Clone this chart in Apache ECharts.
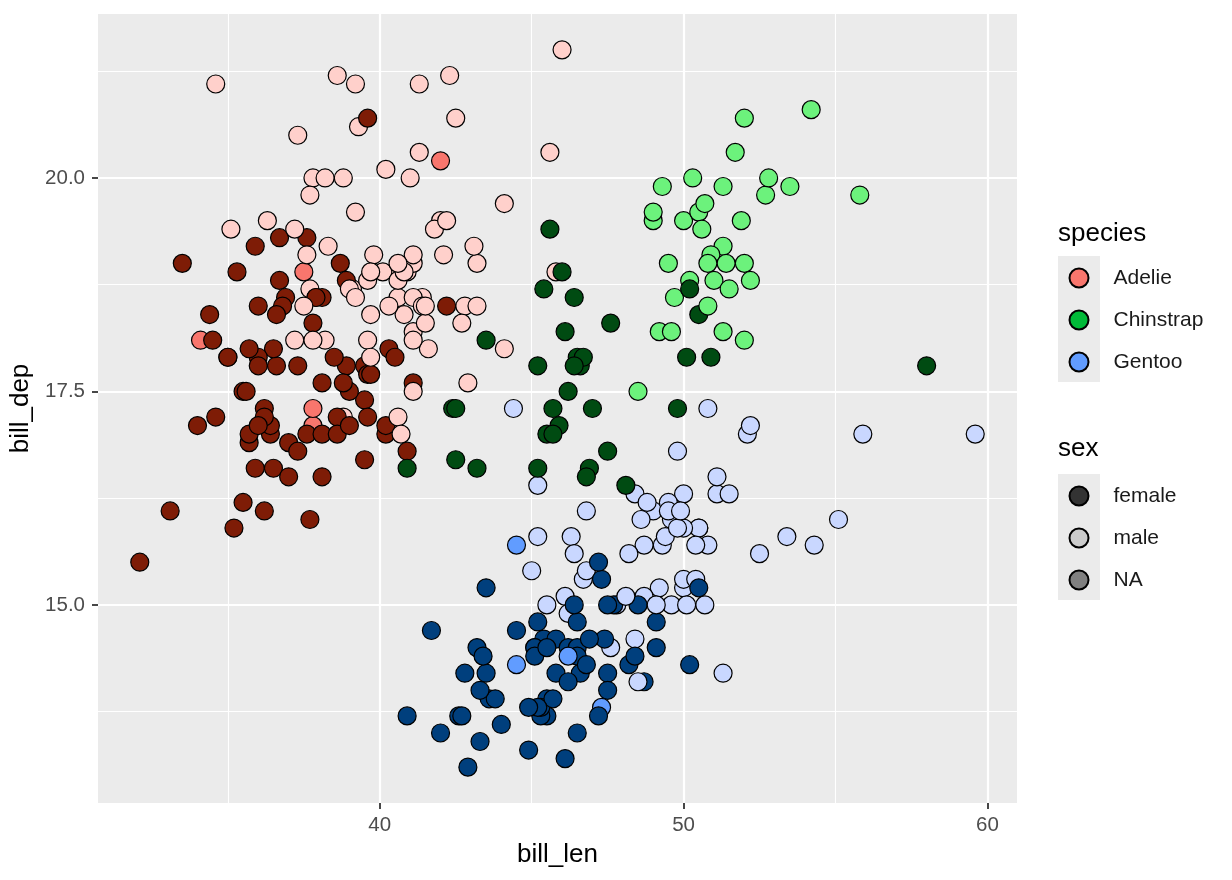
<!DOCTYPE html>
<html>
<head>
<meta charset="utf-8">
<script src="https://cdn.jsdelivr.net/npm/echarts@6/dist/echarts.min.js"></script>
<style>
  html, body { margin: 0; padding: 0; background: #fff; }
  #chart { width: 1232px; height: 880px; }
</style>
</head>
<body>
<div id="chart"></div>
<script>
// palmer penguins, in row order (f = female, m = male, '' = NA)
var adelieLen = [39.1,39.5,40.3,36.7,39.3,38.9,39.2,34.1,42.0,37.8,37.8,41.1,38.6,34.6,36.6,38.7,42.5,34.4,46.0,37.8,37.7,35.9,38.2,38.8,35.3,40.6,40.5,37.9,40.5,39.5,37.2,39.5,40.9,36.4,39.2,38.8,42.2,37.6,39.8,36.5,40.8,36.0,44.1,37.0,39.6,41.1,37.5,36.0,42.3,39.6,40.1,35.0,42.0,34.5,41.4,39.0,40.6,36.5,37.6,35.7,41.3,37.6,41.1,36.4,41.6,35.5,41.1,35.9,41.8,33.5,39.7,39.6,45.8,35.5,42.8,40.9,37.2,36.2,42.1,34.6,42.9,36.7,35.1,37.3,41.3,36.3,36.9,38.3,38.9,35.7,41.1,34.0,39.6,36.2,40.8,38.1,40.3,33.1,43.2,35.0,41.0,37.7,37.8,37.9,39.7,38.6,38.2,38.1,43.2,38.1,45.6,39.7,42.2,39.6,42.7,38.6,37.3,35.7,41.1,36.2,37.7,40.2,41.4,35.2,40.6,38.8,41.5,39.0,44.1,38.5,43.1,36.8,37.5,38.1,41.1,35.6,40.2,37.0,39.7,40.2,40.6,32.1,40.7,37.3,39.0,39.2,36.6,36.0,37.8,36.0,41.5];
var adelieDep = [18.7,17.4,18.0,19.3,20.6,17.8,19.6,18.1,20.2,17.1,17.3,17.6,21.2,21.1,17.8,19.0,20.7,18.4,21.5,18.3,18.7,19.2,18.1,17.2,18.9,18.6,17.9,18.6,18.9,16.7,18.1,17.8,18.9,17.0,21.1,20.0,18.5,19.3,19.1,18.0,18.4,18.5,19.7,16.9,18.8,19.0,18.9,17.9,21.2,17.7,18.9,17.9,19.5,18.1,18.6,17.5,18.8,16.6,19.1,16.9,21.1,17.0,18.2,17.1,18.0,16.2,19.1,16.6,19.4,19.0,18.4,17.2,18.9,17.5,18.5,16.8,19.4,16.1,19.1,17.2,17.6,18.8,19.4,17.8,20.3,19.5,18.6,19.2,18.8,18.0,18.1,17.1,18.1,17.3,18.9,18.6,18.5,16.1,18.5,17.9,20.0,16.0,20.0,18.6,18.9,17.2,20.0,17.0,19.0,16.5,20.3,17.7,19.5,20.7,18.3,17.0,20.5,17.0,18.6,17.2,19.8,17.0,18.5,15.9,19.0,17.6,18.3,17.1,18.0,17.9,19.2,18.5,18.5,17.6,17.5,17.5,20.1,16.5,17.9,17.1,17.2,15.5,17.0,16.8,18.7,18.6,18.4,17.8,18.1,17.1,18.5];
var adelieSex = ['m','f','f','f','m','f','m','','','','','f','m','m','f','f','m','f','m','f','m','f','m','m','f','m','f','f','m','f','m','f','m','f','m','m','f','f','m','f','m','f','m','f','m','m','','f','m','f','m','f','m','f','m','f','m','f','m','f','m','f','m','f','m','f','m','f','m','f','m','f','m','f','m','f','m','f','m','f','m','f','m','f','m','m','f','m','f','f','m','f','m','f','m','f','m','f','m','f','m','f','m','f','m','f','m','f','m','f','m','f','m','f','m','f','m','f','m','f','m','f','m','f','m','f','m','f','m','f','m','f','m','f','m','f','m','f','m','f','m','f','m','f','m','m','f','f','m','f','m'];

var gentooLen = [46.1,50.0,48.7,50.0,47.6,46.5,45.4,46.7,43.3,46.8,40.9,49.0,45.5,48.4,45.8,49.3,42.0,49.2,46.2,48.7,50.2,45.1,46.5,46.3,42.9,46.1,44.5,47.8,48.2,50.0,47.3,42.8,45.1,59.6,49.1,48.4,42.6,44.4,44.0,48.7,42.7,49.6,45.3,49.6,50.5,43.6,45.5,50.5,44.9,45.2,46.6,48.5,45.1,50.1,46.5,45.0,43.8,45.5,43.2,50.4,45.3,46.2,45.7,54.3,45.8,49.8,46.2,49.5,43.5,50.7,47.7,46.4,48.2,46.5,46.4,48.6,47.5,51.1,45.2,45.2,49.1,52.5,47.4,50.0,44.9,50.8,43.4,51.3,47.5,52.1,47.5,52.2,45.5,49.5,44.5,50.8,49.4,46.9,48.4,51.1,48.5,55.9,47.2,49.1,47.3,46.8,41.7,53.4,43.3,48.1,50.5,49.8,43.5,51.5,46.2,55.1,44.5,48.8,47.2,46.8,50.4,45.2,49.9];
var gentooDep = [13.2,16.3,14.1,15.2,14.5,13.5,14.6,15.3,13.4,15.4,13.7,16.1,13.7,14.6,14.6,15.7,13.5,15.2,14.5,15.1,14.3,14.5,14.5,15.8,13.1,15.1,14.3,15.0,14.3,15.3,15.3,14.2,14.5,17.0,14.8,16.3,13.7,17.3,13.6,15.7,13.7,16.0,13.7,15.0,15.9,13.9,13.9,15.9,13.3,15.8,14.2,14.1,14.4,15.0,14.4,15.4,13.9,15.0,14.5,15.3,13.8,14.9,13.9,15.7,14.2,16.8,14.4,16.2,14.2,15.0,15.0,15.6,15.6,14.8,15.0,16.0,14.2,16.3,13.8,16.4,14.5,15.6,14.6,15.9,13.8,17.3,14.4,14.2,14.0,17.0,15.0,17.1,14.5,16.1,14.7,15.7,15.8,14.6,14.4,16.5,15.0,17.0,15.5,15.0,13.8,16.1,14.7,15.8,14.0,15.1,15.2,15.9,15.2,16.3,14.1,16.0,15.7,16.2,13.7,14.3,15.7,14.8,16.1];
var gentooSex = ['f','m','f','m','m','f','f','m','f','m','f','m','f','m','f','m','f','m','f','m','f','f','f','m','f','m','','m','f','m','f','f','f','m','f','m','f','m','f','m','f','m','f','m','m','f','f','m','f','m','f','m','f','m','f','m','f','m','f','m','f','m','f','m','f','m','','m','f','m','f','m','m','f','f','m','f','m','f','m','f','m','f','m','f','m','f','m','f','m','f','m','f','m','f','m','m','f','f','m','f','m','f','m','','m','f','m','f','m','f','m','f','m','f','m','','m','f','f','m','f','m'];

var chinLen = [46.5,50.0,51.3,45.4,52.7,45.2,46.1,51.3,46.0,51.3,46.6,51.7,47.0,52.0,45.9,50.5,50.3,58.0,46.4,49.2,42.4,48.5,43.2,50.6,46.7,52.0,50.5,49.5,46.4,52.8,40.9,54.2,42.5,51.0,49.7,47.5,47.6,52.0,46.9,53.5,49.0,46.2,50.9,45.5,50.9,50.8,50.1,49.0,51.5,49.8,48.1,51.4,45.7,50.7,42.5,52.2,45.2,49.3,50.2,45.6,51.9,46.8,45.7,55.8,43.5,49.6,50.8,50.2];
var chinDep = [17.9,19.5,19.2,18.7,19.8,17.8,18.2,18.2,18.9,19.9,17.8,20.3,17.3,18.1,17.1,19.6,20.0,17.8,18.6,18.2,17.3,17.5,16.6,19.4,17.9,19.0,18.4,19.0,17.8,20.0,16.6,20.8,16.7,18.8,18.6,16.8,18.3,20.7,16.6,19.9,19.5,17.5,19.1,17.0,17.9,18.5,17.9,19.6,18.7,17.3,16.4,19.0,17.3,19.7,17.3,18.8,16.6,19.9,18.8,19.4,19.5,16.5,17.0,19.8,18.1,18.2,19.0,18.7];
var chinSex = ['f','m','m','f','m','f','f','m','f','m','f','m','f','m','f','m','m','f','f','m','f','m','f','m','f','m','f','m','f','m','f','m','f','m','m','f','f','m','f','m','m','f','m','f','f','m','f','m','m','f','f','m','f','m','f','m','f','m','m','f','m','f','f','m','f','m','m','f'];

var speciesNames = ['Adelie', 'Chinstrap', 'Gentoo'];
var sexNames = ['female', 'male', 'NA'];
var xTicks = [40, 50, 60];
var yTicks = [15.0, 17.5, 20.0];
var xMinor = [35, 45, 55];
var yMinor = [13.75, 16.25, 18.75, 21.25];

var fills = {
    Adelie:    { f: '#7E1C06', m: '#FFD0CB', '': '#F8766D' },
    Chinstrap: { f: '#004B12', m: '#6CF27C', '': '#00BA38' },
    Gentoo:    { f: '#003F7D', m: '#C9D7FF', '': '#619CFF' }
};
var sexKey = { female: '#333333', male: '#CCCCCC', NA: '#808080' };

function addPoints(out, name, len, dep, sex) {
    for (var i = 0; i < len.length; i++) {
        out.push({ value: [len[i], dep[i]], itemStyle: { color: fills[name][sex[i]] } });
    }
}
var points = [];
addPoints(points, 'Adelie', adelieLen, adelieDep, adelieSex);
addPoints(points, 'Gentoo', gentooLen, gentooDep, gentooSex);
addPoints(points, 'Chinstrap', chinLen, chinDep, chinSex);

// ggplot expands the range by 5% each side
var allX = adelieLen.concat(gentooLen, chinLen);
var allY = adelieDep.concat(gentooDep, chinDep);
var xLo = Math.min.apply(null, allX), xHi = Math.max.apply(null, allX);
var yLo = Math.min.apply(null, allY), yHi = Math.max.apply(null, allY);
var xPad = (xHi - xLo) * 0.05, yPad = (yHi - yLo) * 0.05;

var gridLines = [];
xMinor.forEach(function (v) { gridLines.push({ xAxis: v, lineStyle: { width: 1.1 } }); });
yMinor.forEach(function (v) { gridLines.push({ yAxis: v, lineStyle: { width: 1.1 } }); });
xTicks.forEach(function (v) { gridLines.push({ xAxis: v, lineStyle: { width: 2.2 } }); });
yTicks.forEach(function (v) { gridLines.push({ yAxis: v, lineStyle: { width: 2.2 } }); });

var font = "'Liberation Sans', Arial, sans-serif";

var series = [{
    name: 'grid',
    type: 'scatter',
    data: [],
    z: 0,
    silent: true,
    markLine: {
        silent: true,
        symbol: 'none',
        z: 0,
        animation: false,
        label: { show: false },
        lineStyle: { color: '#ffffff', type: 'solid' },
        data: gridLines
    }
}, {
    name: 'penguins',
    type: 'scatter',
    z: 3,
    symbol: 'circle',
    symbolSize: 18,
    itemStyle: { borderColor: '#000', borderWidth: 1.2, opacity: 1 },
    data: points
}];
speciesNames.forEach(function (s) {
    series.push({ name: s, type: 'scatter', data: [], itemStyle: { color: fills[s][''], borderColor: '#000', borderWidth: 1.2, opacity: 1 } });
});
sexNames.forEach(function (s) {
    series.push({ name: s, type: 'scatter', data: [], itemStyle: { color: sexKey[s], borderColor: '#000', borderWidth: 1.2, opacity: 1 } });
});

var legendBase = {
    orient: 'vertical',
    left: 1068.5,
    padding: 0,
    itemWidth: 19,
    itemHeight: 19,
    itemGap: 21,
    icon: 'circle',
    selectedMode: false,
    textStyle: { fontFamily: font, fontSize: 21, color: '#1a1a1a', lineHeight: 21, padding: [0, 0, 0, 20] }
};

var chart = echarts.init(document.getElementById('chart'));
var option = {
    animation: false,
    backgroundColor: '#ffffff',
    grid: {
        left: 98, right: 215, top: 14, bottom: 77,
        show: true, backgroundColor: '#EBEBEB', borderWidth: 0
    },
    xAxis: {
        type: 'value',
        min: xLo - xPad,
        max: xHi + xPad,
        name: 'bill_len',
        nameLocation: 'middle',
        nameGap: 39,
        nameTextStyle: { fontFamily: font, fontSize: 26, color: '#000' },
        axisLine: { show: false },
        axisTick: { show: true, length: 6, customValues: xTicks, lineStyle: { color: '#333', width: 1.8 } },
        axisLabel: { customValues: xTicks, margin: 12, fontFamily: font, fontSize: 20.5, color: '#4D4D4D' },
        splitLine: { show: false }
    },
    yAxis: {
        type: 'value',
        min: yLo - yPad,
        max: yHi + yPad,
        name: 'bill_dep',
        nameLocation: 'middle',
        nameGap: 61,
        nameRotate: 90,
        nameTextStyle: { fontFamily: font, fontSize: 26, color: '#000' },
        axisLine: { show: false },
        axisTick: { show: true, length: 6, customValues: yTicks, lineStyle: { color: '#333', width: 1.8 } },
        axisLabel: {
            customValues: yTicks, margin: 13, fontFamily: font, fontSize: 20.5, color: '#4D4D4D',
            formatter: function (v) { return v.toFixed(1); }
        },
        splitLine: { show: false }
    },
    legend: [
        Object.assign({}, legendBase, { top: 267.5, data: speciesNames }),
        Object.assign({}, legendBase, { top: 485.5, data: sexNames })
    ],
    graphic: [
        { type: 'rect', left: 1058, top: 256, z: -1, shape: { width: 42, height: 126 }, style: { fill: '#EBEBEB' } },
        { type: 'rect', left: 1058, top: 474, z: -1, shape: { width: 42, height: 126 }, style: { fill: '#EBEBEB' } },
        { type: 'text', left: 1058, top: 221, style: { text: 'species', fontFamily: font, fontSize: 26, fill: '#000' } },
        { type: 'text', left: 1058, top: 436, style: { text: 'sex', fontFamily: font, fontSize: 26, fill: '#000' } }
    ],
    series: series
};
chart.setOption(option);
window.addEventListener('resize', function () {
    chart.resize();
});
</script>
</body>
</html>
